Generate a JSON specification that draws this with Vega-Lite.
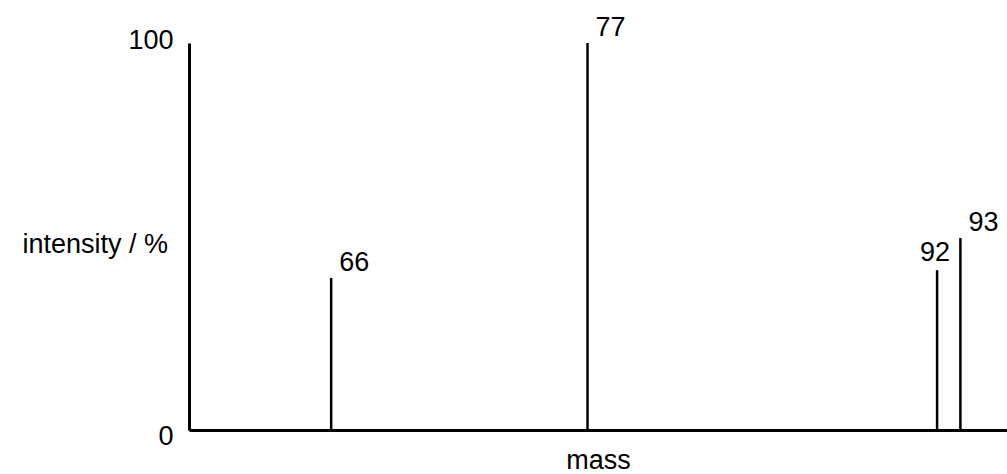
{
  "$schema": "https://vega.github.io/schema/vega-lite/v6.json",
  "autosize": {"type": "none"},
  "width": 818,
  "height": 387,
  "padding": {"left": 189, "top": 43, "right": 0, "bottom": 44},
  "background": "white",
  "config": {
    "view": {"stroke": null},
    "font": "Liberation Sans",
    "axis": {"grid": false, "domainColor": "black", "domainWidth": 3, "labelColor": "black", "titleColor": "black", "labelFont": "Liberation Sans", "titleFont": "Liberation Sans", "titleFontWeight": "normal"}
  },
  "data": {"values": [
    {"mass": 66, "intensity": 39.3},
    {"mass": 77, "intensity": 100},
    {"mass": 92, "intensity": 41.3},
    {"mass": 93, "intensity": 49.6}
  ]},
  "encoding": {
    "x": {"field": "mass", "type": "quantitative",
      "scale": {"domain": [59.9, 95.0], "nice": false, "zero": false},
      "axis": {"title": "mass", "labels": false, "ticks": false, "titleFontSize": 27, "titlePadding": 17}},
    "y": {"field": "intensity", "type": "quantitative",
      "scale": {"domain": [0, 100], "nice": false},
      "axis": {"title": "intensity / %", "values": [0, 100], "ticks": false, "labelFontSize": 27, "labelPadding": 16,
        "labelOffset": {"condition": {"test": "datum.value == 0", "value": 6}, "value": -3},
        "titleAngle": 0, "titleAlign": "left", "titleBaseline": "middle", "titleX": -167, "titleY": 201, "titleFontSize": 27}}
  },
  "layer": [
    {"mark": {"type": "rule", "color": "black", "strokeWidth": 2.5}, "encoding": {"y2": {"datum": 0}}},
    {"transform": [{"filter": "datum.mass != 92"}],
     "mark": {"type": "text", "align": "left", "baseline": "alphabetic", "dx": 8, "dy": -7, "fontSize": 27, "color": "black"},
     "encoding": {"text": {"field": "mass", "type": "nominal"}}},
    {"transform": [{"filter": "datum.mass == 92"}],
     "mark": {"type": "text", "align": "center", "baseline": "alphabetic", "dx": -2, "dy": -9, "fontSize": 27, "color": "black"},
     "encoding": {"text": {"field": "mass", "type": "nominal"}}}
  ]
}
